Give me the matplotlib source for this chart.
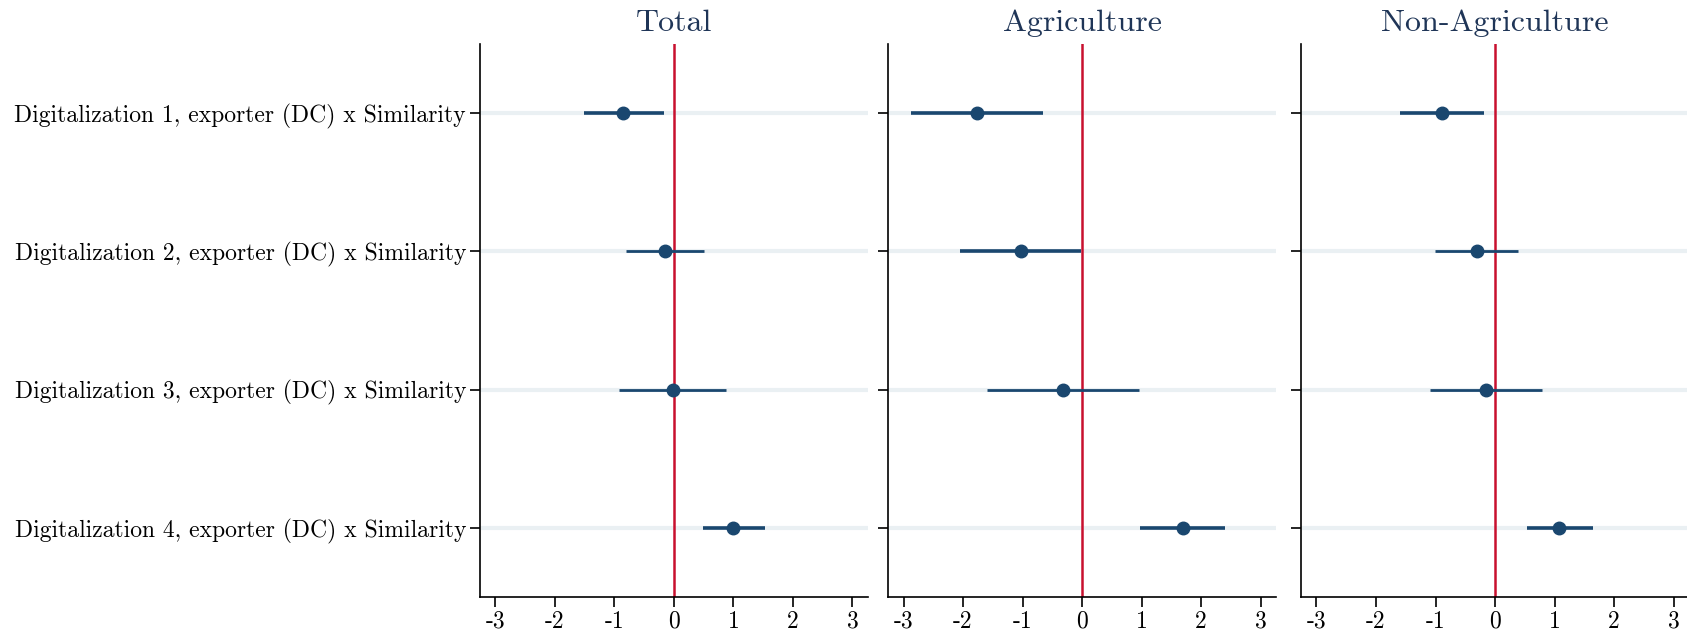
import numpy as np
import matplotlib
matplotlib.use("Agg")
import matplotlib.pyplot as plt

plt.rcParams['font.family'] = ['cmr10', 'DejaVu Serif']
plt.rcParams['axes.unicode_minus'] = False
plt.rcParams['axes.formatter.use_mathtext'] = True

# coefficients and 95% CI
labels = ["Digitalization 1, exporter (DC) x Similarity",
          "Digitalization 2, exporter (DC) x Similarity",
          "Digitalization 3, exporter (DC) x Similarity",
          "Digitalization 4, exporter (DC) x Similarity"]
panels = ["Total", "Agriculture", "Non-Agriculture"]

total_coef = [-0.85, -0.15, -0.02, 1.00]
total_lo = [-1.52, -0.81, -0.93, 0.49]
total_hi = [-0.17, 0.50, 0.88, 1.53]

agri_coef = [-1.76, -1.03, -0.32, 1.69]
agri_lo = [-2.88, -2.05, -1.60, 0.97]
agri_hi = [-0.66, -0.01, 0.95, 2.41]

nonagri_coef = [-0.89, -0.31, -0.15, 1.08]
nonagri_lo = [-1.59, -1.01, -1.09, 0.53]
nonagri_hi = [-0.18, 0.39, 0.79, 1.64]

xticks = [-3, -2, -1, 0, 1, 2, 3]
xticklabels = ["-3", "-2", "-1", "0", "1", "2", "3"]

navy = "#1a476f"
red = "#c8102e"
grid_col = "#eaf0f3"

fig = plt.figure(figsize=(16.87, 6.33), dpi=100)
lefts = [0.2845, 0.5264, 0.7712]
data = [(total_coef, total_lo, total_hi),
        (agri_coef, agri_lo, agri_hi),
        (nonagri_coef, nonagri_lo, nonagri_hi)]

ypos = np.arange(1, len(labels) + 1)

for i, (title, (coef, lo, hi)) in enumerate(zip(panels, data)):
    ax = fig.add_axes([lefts[i], 0.0569, 0.230, 0.8736])
    for y in ypos:
        ax.axhline(y, color=grid_col, lw=3, zorder=0)
    ax.axvline(0, color=red, lw=1.8, zorder=1)
    coef = np.array(coef); lo = np.array(lo); hi = np.array(hi)
    sig = (lo > 0) | (hi < 0)
    for y, c, l, h, s in zip(ypos, coef, lo, hi, sig):
        ax.plot([l, h], [y, y], color=navy, lw=2.6 if s else 2.0,
                solid_capstyle='butt', zorder=2)
    ax.plot(coef, ypos, 'o', color=navy, ms=9, zorder=3)

    ax.set_xlim(-3.26, 3.26)
    ax.set_ylim(4.5, 0.5)
    ax.set_xticks(xticks)
    ax.set_xticklabels(xticklabels)
    ax.set_yticks(ypos)
    if i == 0:
        ax.set_yticklabels(labels)
    else:
        ax.set_yticklabels([])
    ax.tick_params(axis='both', length=7, width=1.2, labelsize=17, pad=3)
    for side in ['top', 'right']:
        ax.spines[side].set_visible(False)
    for side in ['left', 'bottom']:
        ax.spines[side].set_linewidth(1.2)
    ax.set_title(title, fontsize=23, color="#1f3557", pad=9)

fig.savefig("out.png", dpi=100)
